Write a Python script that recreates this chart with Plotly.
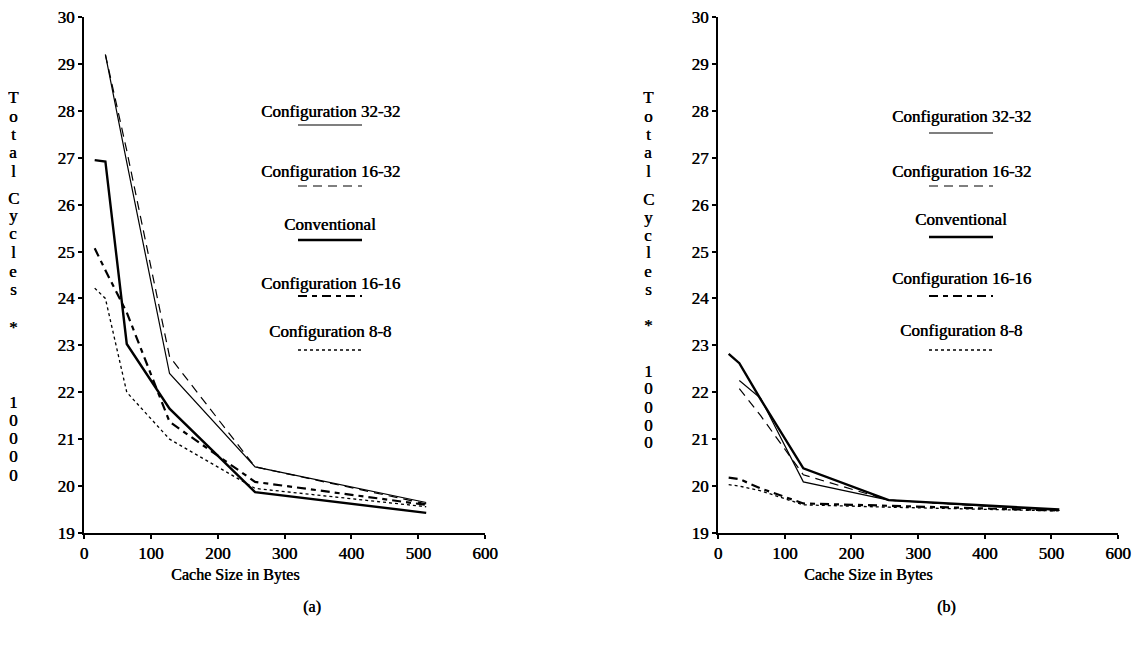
import plotly.graph_objects as go

# ---------------- data ----------------
sizes = [16, 32, 64, 128, 256, 512]
sizes32 = [32, 64, 128, 256, 512]

# panel (a)
a_conv = [26.95, 26.92, 23.03, 21.65, 19.87, 19.43]
a_c3232 = [29.2, 26.9, 22.4, 20.41, 19.65]
a_c1632 = [29.2, 27.15, 22.76, 20.41, 19.62]
a_c1616 = [25.07, 24.6, 23.7, 21.37, 20.09, 19.6]
a_c88 = [24.22, 24.0, 22.0, 21.0, 19.95, 19.56]

# panel (b)
b_conv = [22.82, 22.62, 21.85, 20.38, 19.70, 19.50]
b_c3232 = [22.25, 21.87, 20.09, 19.70, 19.48]
b_c1632 = [22.08, 21.5, 20.24, 19.70, 19.48]
b_c1616 = [20.18, 20.15, 19.95, 19.63, 19.58, 19.48]
b_c88 = [20.03, 20.0, 19.9, 19.6, 19.55, 19.47]

legend_labels = ["Configuration 32-32", "Configuration 16-32", "Conventional",
                 "Configuration 16-16", "Configuration 8-8"]
x_ticks = [0, 100, 200, 300, 400, 500, 600]
y_ticks = list(range(19, 31))
ytitle_chars = ["T", "o", "t", "a", "l", "C", "y", "c", "l", "e", "s", "*",
                "1", "0", "0", "0", "0"]

# ---------------- styles ----------------
FONT = "Liberation Serif, Times New Roman, serif"
SHADOW = "0.5px 0px 0px black"
OFF = 8  # page body margin
W, H = 1143 - OFF, 646 - OFF
styles = {
    "Configuration 32-32": dict(color="black", width=1.2, dash="solid"),
    "Configuration 16-32": dict(color="black", width=1.2, dash="9px,6px"),
    "Conventional": dict(color="black", width=2.4, dash="solid"),
    "Configuration 16-16": dict(color="black", width=2.2, dash="9px,5px,5px,5px"),
    "Configuration 8-8": dict(color="black", width=1.3, dash="3px,3px"),
}

fig = go.Figure()

def add_panel(xa, ya, series):
    for name, xs, ys in series:
        fig.add_trace(go.Scatter(x=xs, y=ys, mode="lines", name=name,
                                 line=styles[name], xaxis=xa, yaxis=ya,
                                 showlegend=False, hoverinfo="skip"))

add_panel("x", "y", [
    ("Configuration 32-32", sizes32, a_c3232),
    ("Configuration 16-32", sizes32, a_c1632),
    ("Conventional", sizes, a_conv),
    ("Configuration 16-16", sizes, a_c1616),
    ("Configuration 8-8", sizes, a_c88),
])
add_panel("x2", "y2", [
    ("Configuration 32-32", sizes32, b_c3232),
    ("Configuration 16-32", sizes32, b_c1632),
    ("Conventional", sizes, b_conv),
    ("Configuration 16-16", sizes, b_c1616),
    ("Configuration 8-8", sizes, b_c88),
])

def px(v):
    return (v - OFF) / W

def py(v):
    return 1 - (v - OFF) / H

ydom = [py(533), py(17)]
axis_common = dict(showgrid=False, zeroline=False, showline=True, linecolor="black",
                   linewidth=2, ticks="outside", tickcolor="black", tickwidth=1.5,
                   ticklen=4, automargin=False, ticklabeloverflow="allow",
                   tickfont=dict(family=FONT, size=17, color="black", shadow=SHADOW))

fig.update_layout(
    width=W, height=H, paper_bgcolor="white", plot_bgcolor="white",
    margin=dict(l=0, r=0, t=0, b=0, autoexpand=False),
    xaxis=dict(domain=[px(84), px(485)], range=[0, 600], tickvals=x_ticks,
               anchor="y", **axis_common),
    yaxis=dict(domain=ydom, range=[19, 30], tickvals=y_ticks, anchor="x",
               **axis_common),
    xaxis2=dict(domain=[px(718), px(1118)], range=[0, 600], tickvals=x_ticks,
                anchor="y2", **axis_common),
    yaxis2=dict(domain=ydom, range=[19, 30], tickvals=y_ticks, anchor="x2",
                **axis_common),
)

annotations = []
shapes = []

def text(x, y, s, size=16, anchor="center"):
    annotations.append(dict(x=px(x), y=py(y), xref="paper", yref="paper", text=s,
                            showarrow=False, xanchor=anchor, yanchor="middle",
                            font=dict(family=FONT, size=size, color="black", shadow=SHADOW)))

# x-axis titles and panel labels
text(235, 575, "Cache Size in Bytes", 16)
text(868, 575, "Cache Size in Bytes", 16)
text(312, 607, "(a)", 16)
text(946, 607, "(b)", 16)

# vertical y titles (letter stacks)
a_pos = [97, 116, 134, 152, 171, 198, 216, 234, 253, 271, 289, 327, 402, 420, 438, 457, 475]
b_pos = [97, 116, 134, 152, 171, 199, 217, 235, 253, 271, 289, 325, 371, 389, 407, 425, 443]
for ch, yy in zip(ytitle_chars, a_pos):
    text(13, yy, ch, 17)
for ch, yy in zip(ytitle_chars, b_pos):
    text(648, yy, ch, 17)

# legends
a_text_y = [112, 171, 224, 283, 331]
a_line_y = [125, 186, 240, 296, 350]
b_text_y = [116, 171, 220, 278, 330]
b_line_y = [133, 186, 237, 296, 350]
for lab, ty, ly in zip(legend_labels, a_text_y, a_line_y):
    text(330, ty, lab, 17)
    st = styles[lab]
    shapes.append(dict(type="line", xref="paper", yref="paper", x0=px(298), x1=px(362),
                       y0=py(ly), y1=py(ly), line=dict(color="black", width=st["width"], dash=st["dash"])))
for lab, ty, ly in zip(legend_labels, b_text_y, b_line_y):
    text(961, ty, lab, 17)
    st = styles[lab]
    shapes.append(dict(type="line", xref="paper", yref="paper", x0=px(929), x1=px(993),
                       y0=py(ly), y1=py(ly), line=dict(color="black", width=st["width"], dash=st["dash"])))

fig.update_layout(annotations=annotations, shapes=shapes)
fig.write_html("out.html")
